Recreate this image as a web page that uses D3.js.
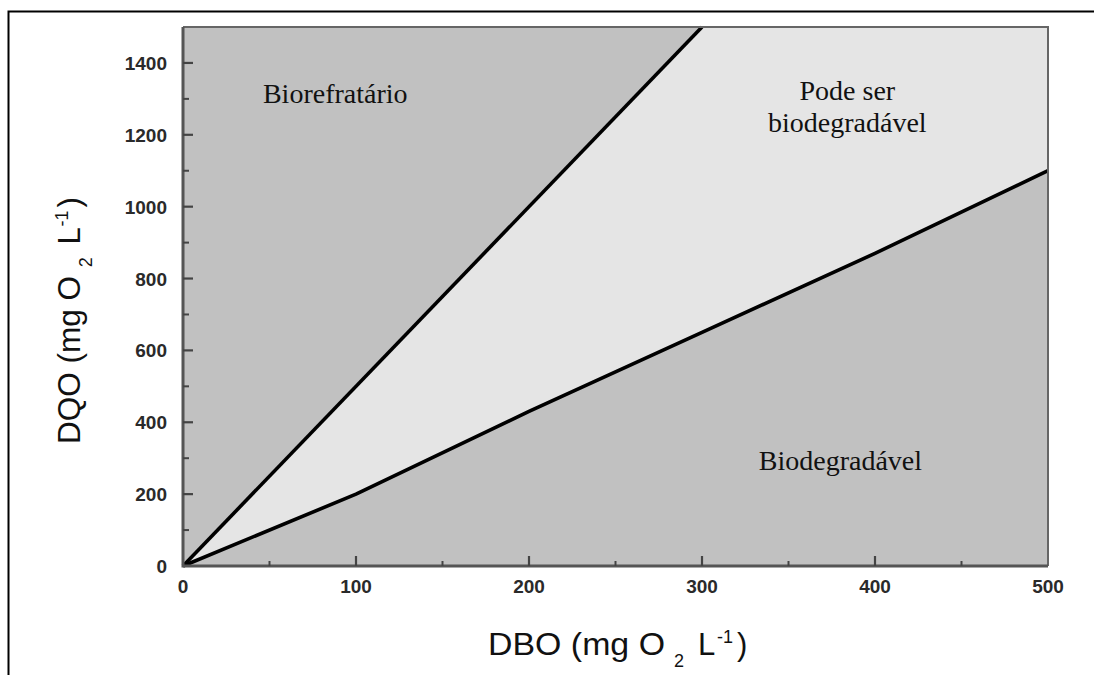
<!DOCTYPE html>
<html>
<head>
<meta charset="utf-8">
<script src="https://cdn.jsdelivr.net/npm/d3@7"></script>
<style>
  html, body { margin: 0; padding: 0; background: #fff; }
  svg { display: block; }
</style>
</head>
<body>
<svg id="chart" width="1094" height="675"></svg>
<script>
// ---- data ----
const dboValues = [0, 100, 200, 300, 400, 500];
const dqoBiodegradavelLimit = [0, 200, 430, 650, 870, 1100];   // lower boundary line
const refratarioLine = [[0, 0], [300, 1500]];                  // upper boundary line (DQO/DBO = 5)
const xTicks = [0, 100, 200, 300, 400, 500];
const yTicks = [0, 200, 400, 600, 800, 1000, 1200, 1400];
const regionLabels = [
  { lines: ["Biorefratário"], x: 88, y: 1289 },
  { lines: ["Pode ser", "biodegradável"], x: 384, y: 1297 },
  { lines: ["Biodegradável"], x: 380, y: 267 }
];

(function () {
const svg = d3.select("#chart");
const pL = 183, pR = 1048, pT = 27, pB = 566;

const x = d3.scaleLinear().domain([0, 500]).range([pL, pR]);
const y = d3.scaleLinear().domain([0, 1500]).range([pB, pT]);

// outer frame (left and top)
svg.append("path")
  .attr("d", `M8.5,675 L8.5,11.5 L1094,11.5`)
  .attr("fill", "none").attr("stroke", "#000").attr("stroke-width", 2);

// dark background region
svg.append("rect")
  .attr("x", x(0)).attr("y", y(1500))
  .attr("width", x(500) - x(0)).attr("height", y(0) - y(1500))
  .attr("fill", "#c1c1c1");

// light region between lines
const lowerPts = dboValues.map((d, i) => [d, dqoBiodegradavelLimit[i]]);
const lightPoly = [refratarioLine[0], refratarioLine[1], [500, 1500], ...lowerPts.slice().reverse()];
const line = d3.line().x(d => x(d[0])).y(d => y(d[1]));
svg.append("path")
  .attr("d", line(lightPoly) + "Z")
  .attr("fill", "#e5e5e5");

// boundary lines
svg.append("path").attr("d", line(refratarioLine))
  .attr("fill", "none").attr("stroke", "#000").attr("stroke-width", 3.6);
svg.append("path").attr("d", line(lowerPts))
  .attr("fill", "none").attr("stroke", "#000").attr("stroke-width", 3.6)
  .attr("stroke-linejoin", "round");

// plot frame
svg.append("path")
  .attr("d", `M${pL},${pT} L${pR},${pT} L${pR},${pB}`)
  .attr("fill", "none").attr("stroke", "#666").attr("stroke-width", 2);
svg.append("path")
  .attr("d", `M${pL},${pT} L${pL},${pB} L${pR},${pB}`)
  .attr("fill", "none").attr("stroke", "#555").attr("stroke-width", 3);

// ticks (inside)
const tickColor = "#444";
const yMinor = d3.range(100, 1500, 200);
const xMinor = d3.range(50, 500, 100);
yTicks.forEach(t => {
  if (t === 0) return;
  svg.append("line").attr("x1", pL).attr("x2", pL + 10)
    .attr("y1", y(t)).attr("y2", y(t)).attr("stroke", tickColor).attr("stroke-width", 2.2);
});
yMinor.forEach(t => {
  svg.append("line").attr("x1", pL).attr("x2", pL + 6)
    .attr("y1", y(t)).attr("y2", y(t)).attr("stroke", tickColor).attr("stroke-width", 2);
});
xTicks.forEach(t => {
  if (t === 0 || t === 500) return;
  svg.append("line").attr("x1", x(t)).attr("x2", x(t))
    .attr("y1", pB).attr("y2", pB - 10).attr("stroke", tickColor).attr("stroke-width", 2.2);
});
xMinor.forEach(t => {
  svg.append("line").attr("x1", x(t)).attr("x2", x(t))
    .attr("y1", pB).attr("y2", pB - 5).attr("stroke", tickColor).attr("stroke-width", 2);
});

// tick labels
const tickFont = "'Liberation Sans', Arial, sans-serif";
svg.append("g").selectAll("text").data(yTicks).join("text")
  .attr("x", 167).attr("y", d => y(d) + 7)
  .attr("text-anchor", "end")
  .attr("font-family", tickFont).attr("font-size", 19).attr("font-weight", "bold")
  .attr("fill", "#2a2a2a")
  .text(d => d);
svg.append("g").selectAll("text").data(xTicks).join("text")
  .attr("x", d => x(d)).attr("y", 593)
  .attr("text-anchor", "middle")
  .attr("font-family", tickFont).attr("font-size", 19).attr("font-weight", "bold")
  .attr("fill", "#2a2a2a")
  .text(d => d);

// region labels
regionLabels.forEach(l => {
  const t = svg.append("text")
    .attr("x", x(l.x)).attr("y", y(l.y))
    .attr("text-anchor", "middle")
    .attr("font-family", "'Liberation Serif', 'Times New Roman', serif")
    .attr("font-size", 28).attr("fill", "#111");
  l.lines.forEach((s, i) => {
    t.append("tspan").attr("x", x(l.x)).attr("dy", i === 0 ? 0 : 32).text(s);
  });
});

// axis titles: pieces placed along the baseline (k = horizontal scale)
function axisTitle(g, base, k) {
  const font = "'Liberation Sans', Arial, sans-serif";
  const parts = [
    { s: base + " (mg O", at: 0, len: 177, size: 31, dy: 0 },
    { s: "2", at: 186, size: 18, dy: 12 },
    { s: "L", at: 210, size: 31, dy: 0 },
    { s: "-1", at: 229, size: 18, dy: -12 },
    { s: ")", at: 249, size: 31, dy: 0 }
  ];
  parts.forEach(p => {
    const t = g.append("text")
      .attr("x", p.at * k).attr("y", p.dy)
      .attr("font-family", font).attr("font-size", p.size).attr("fill", "#111")
      .text(p.s);
    if (p.len) t.attr("textLength", p.len * k).attr("lengthAdjust", "spacingAndGlyphs");
  });
}
const xt = svg.append("g").attr("transform", "translate(488,655)");
axisTitle(xt, "DBO", 1);
const yt = svg.append("g").attr("transform", "translate(80,444) rotate(-90)");
axisTitle(yt, "DQO", 0.95);
})();
</script>
</body>
</html>
